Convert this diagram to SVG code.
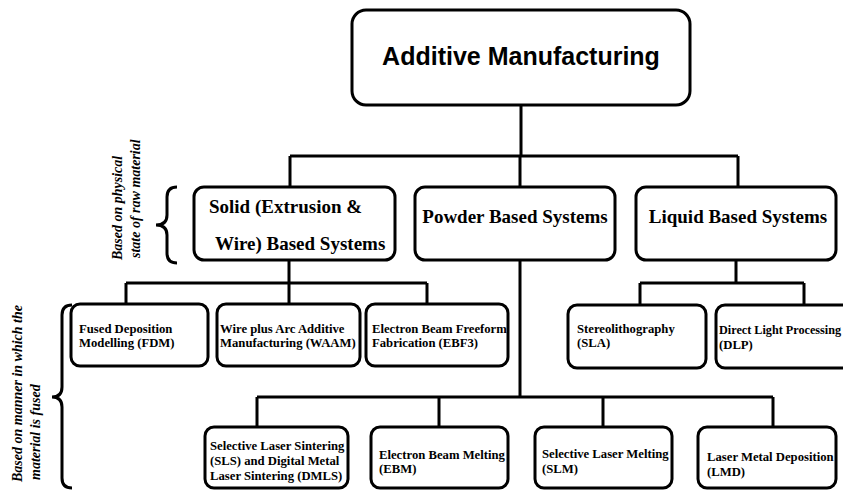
<svg xmlns="http://www.w3.org/2000/svg" width="843" height="490" viewBox="0 0 843 490">
<style>
.box{fill:#fff;stroke:#000;stroke-width:3}
.ln{fill:none;stroke:#000;stroke-width:3}
.t1{font-family:"Liberation Sans",Arial,sans-serif;font-weight:bold;font-size:25px}
.t2{font-family:"Liberation Serif","Times New Roman",serif;font-weight:bold;font-size:19px}
.t3{font-family:"Liberation Serif","Times New Roman",serif;font-weight:bold;font-size:12.7px}
.ti{font-family:"Liberation Serif","Times New Roman",serif;font-weight:bold;font-style:italic;font-size:14px}
</style>
<g id="connectors">
<path class="ln" d="M521,105 V156 M290,156 H738 M290,156 V187 M520,156 V187 M738,156 V187"/>
<path class="ln" d="M289,260 V283 M126,283 H427 M126,283 V304 M289,283 V304 M427,283 V304"/>
<path class="ln" d="M736,260 V283 M640,283 H804 M640,283 V305 M804,283 V305"/>
<path class="ln" d="M520,260 V397 M257,397 H773 M257,397 V427 M439,397 V427 M603,397 V427 M773,397 V427"/>
</g>
<g id="braces">
<path class="ln" d="M177,187 Q167,187 167,197 V215 Q167,225 156,225 Q167,225 167,235 V253 Q167,263 177,263"/>
<path class="ln" d="M72,305 Q62,305 62,315 V387 Q62,397 52,397 Q62,397 62,407 V478 Q62,488 72,488"/>
<text class="ti" transform="translate(122,260) rotate(-90)">Based on physical</text>
<text class="ti" transform="translate(140,258) rotate(-90)">state of raw material</text>
<text class="ti" transform="translate(22,482) rotate(-90)">Based on manner in which the</text>
<text class="ti" transform="translate(40,480) rotate(-90)">material is fused</text>
</g>
<g id="am"><rect class="box" x="352" y="10" width="338" height="95" rx="14"/><text class="t1" x="521" y="65" text-anchor="middle">Additive Manufacturing</text></g>
<g id="solid"><rect class="box" x="194" y="187" width="201" height="73" rx="10"/><text class="t2" x="209" y="213">Solid (Extrusion &amp;</text><text class="t2" x="215" y="250">Wire) Based Systems</text></g>
<g id="powder"><rect class="box" x="415" y="187" width="200" height="73" rx="10"/><text class="t2" x="515" y="223" text-anchor="middle">Powder Based Systems</text></g>
<g id="liquid"><rect class="box" x="636" y="187" width="200" height="73" rx="10"/><text class="t2" x="738" y="223" text-anchor="middle">Liquid Based Systems</text></g>
<g id="fdm"><rect class="box" x="71" y="304" width="137" height="62" rx="9"/><text class="t3" x="79" y="333">Fused Deposition</text><text class="t3" x="79" y="347">Modelling (FDM)</text></g>
<g id="waam"><rect class="box" x="217" y="304" width="143" height="62" rx="9"/><text class="t3" x="220" y="333">Wire plus Arc Additive</text><text class="t3" x="220" y="347">Manufacturing (WAAM)</text></g>
<g id="ebf3"><rect class="box" x="366" y="304" width="142" height="62" rx="9"/><text class="t3" x="372" y="333">Electron Beam Freeform</text><text class="t3" x="372" y="347">Fabrication (EBF3)</text></g>
<g id="sla"><rect class="box" x="568" y="305" width="138" height="63" rx="9"/><text class="t3" x="577" y="333">Stereolithography</text><text class="t3" x="577" y="347">(SLA)</text></g>
<g id="dlp"><rect class="box" x="716" y="305" width="144" height="63" rx="9"/><text class="t3" x="719" y="334" style="font-size:12.2px">Direct Light Processing</text><text class="t3" x="719" y="349">(DLP)</text></g>
<g id="sls"><rect class="box" x="205" y="427" width="143" height="61" rx="9"/><text class="t3" x="210" y="450">Selective Laser Sintering</text><text class="t3" x="210" y="465">(SLS) and Digital Metal</text><text class="t3" x="210" y="480">Laser Sintering (DMLS)</text></g>
<g id="ebm"><rect class="box" x="371" y="427" width="137" height="61" rx="9"/><text class="t3" x="379" y="459">Electron Beam Melting</text><text class="t3" x="379" y="473">(EBM)</text></g>
<g id="slm"><rect class="box" x="535" y="427" width="137" height="61" rx="9"/><text class="t3" x="542" y="458">Selective Laser Melting</text><text class="t3" x="542" y="473">(SLM)</text></g>
<g id="lmd"><rect class="box" x="698" y="427" width="138" height="61" rx="9"/><text class="t3" x="707" y="461">Laser Metal Deposition</text><text class="t3" x="707" y="476">(LMD)</text></g>
</svg>
